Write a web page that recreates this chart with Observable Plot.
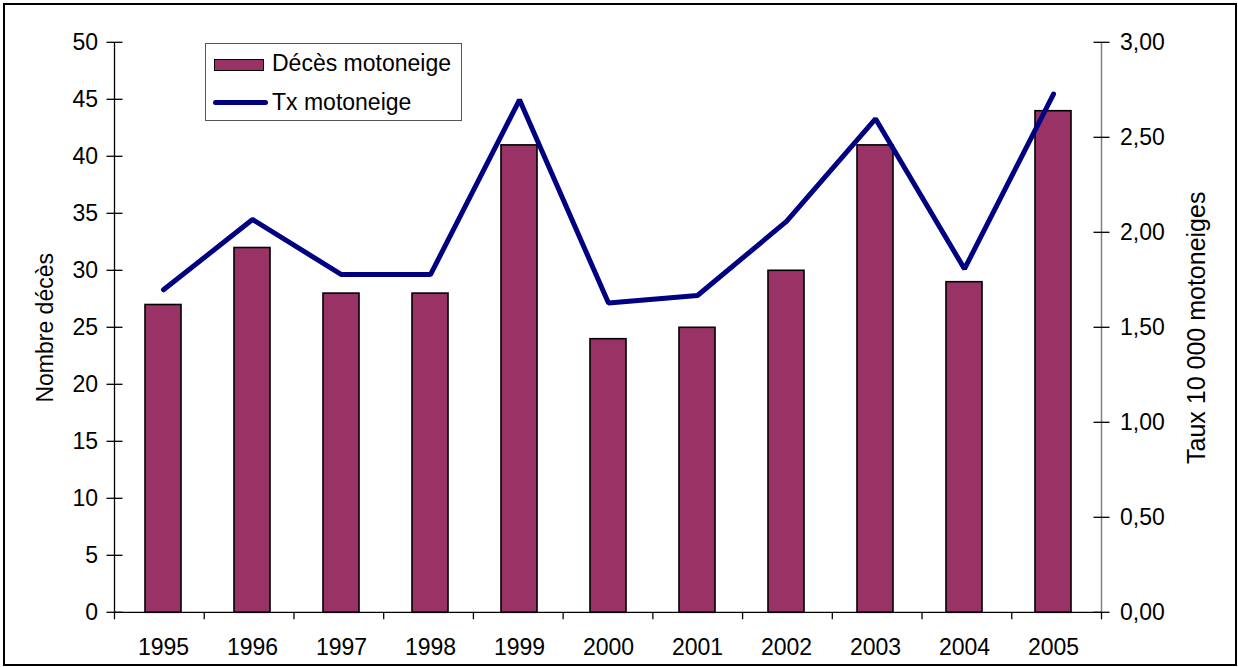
<!DOCTYPE html>
<html>
<head>
<meta charset="utf-8">
<script src="https://cdn.jsdelivr.net/npm/d3@7"></script>
<script src="https://cdn.jsdelivr.net/npm/@observablehq/plot@0.6"></script>
<style>
  html, body { margin: 0; padding: 0; background: #fff; }
  body { width: 1238px; height: 667px; position: relative; overflow: hidden; font-family: "Liberation Sans", Arial, sans-serif; }
  #border { position: absolute; left: 3px; top: 3px; width: 1230px; height: 659px; border: 2px solid #000; }
  #chart { position: absolute; left: 0; top: 0; }
  #legend { position: absolute; left: 205px; top: 43px; width: 255px; height: 76px; border: 1.5px solid #555; background: #fff; font-size: 23px; color: #000; }
  .sw-bar { position: absolute; left: 8px; top: 15px; width: 48px; height: 10px; background: #993366; border: 1.5px solid #000; }
  .sw-line { position: absolute; left: 7px; top: 56px; width: 55px; height: 5px; background: #000080; border-radius: 3px; }
  .lt { position: absolute; left: 66px; white-space: nowrap; }
</style>
</head>
<body>
<div id="border"></div>
<div id="chart"></div>
<div id="legend">
  <div class="sw-bar"></div><div class="lt" style="top:6px">Décès motoneige</div>
  <div class="sw-line"></div><div class="lt" style="top:45px">Tx motoneige</div>
</div>
<script>
const years = ["1995","1996","1997","1998","1999","2000","2001","2002","2003","2004","2005"];
const deces = [27, 32, 28, 28, 41, 24, 25, 30, 41, 29, 44];
const taux = [1.70, 2.07, 1.78, 1.78, 2.70, 1.63, 1.67, 2.06, 2.60, 1.81, 2.73];
const leftTicks = [0, 5, 10, 15, 20, 25, 30, 35, 40, 45, 50];
const rightTicks = [0, 0.5, 1, 1.5, 2, 2.5, 3];
const leftMax = 50, rightMax = 3;
const k = leftMax / rightMax;
const FS = 23;

const data = years.map((y, i) => ({year: y, deces: deces[i], taux: taux[i]}));

// axis lines and crossing ticks, positioned with Plot's own y scale and frame dimensions
function axesDecor(index, scales, values, dims) {
  const g = d3.create("svg:g");
  const L = dims.marginLeft, R = dims.width - dims.marginRight;
  const T = dims.marginTop, B = dims.height - dims.marginBottom;
  const y = scales.y;
  g.append("line").attr("x1", L).attr("x2", L).attr("y1", T).attr("y2", B).attr("stroke", "#000").attr("stroke-width", 1.3);
  g.append("line").attr("x1", R).attr("x2", R).attr("y1", T).attr("y2", B).attr("stroke", "#808080").attr("stroke-width", 1.5);
  for (const t of leftTicks) {
    g.append("line").attr("x1", L - 8).attr("x2", L + 8).attr("y1", y(t)).attr("y2", y(t)).attr("stroke", "#000").attr("stroke-width", 1.3);
  }
  for (const t of rightTicks) {
    g.append("line").attr("x1", R - 8).attr("x2", R + 8).attr("y1", y(t * k)).attr("y2", y(t * k)).attr("stroke", "#000").attr("stroke-width", 1.3);
  }
  g.append("line").attr("x1", L).attr("x2", R).attr("y1", y(0)).attr("y2", y(0)).attr("stroke", "#000").attr("stroke-width", 1.3);
  const n = years.length, step = (R - L) / n;
  for (let i = 0; i <= n; i++) {
    const x = L + i * step;
    g.append("line").attr("x1", x).attr("x2", x).attr("y1", y(0)).attr("y2", y(0) + 7).attr("stroke", "#000").attr("stroke-width", 1.3);
  }
  return g.node();
}

const plot = Plot.plot({
  width: 1238,
  height: 667,
  marginLeft: 114.5,
  marginRight: 136.5,
  marginTop: 42.3,
  marginBottom: 54.7,
  style: {fontFamily: "'Liberation Sans', Arial, sans-serif", fontSize: FS + "px", background: "transparent", color: "#000"},
  x: {type: "band", domain: years, paddingInner: 0.59, paddingOuter: 0.295, label: null},
  y: {domain: [0, leftMax], label: null},
  marks: [
    Plot.barY(data, {x: "year", y: "deces", fill: "#993366", stroke: "#000", strokeWidth: 1.6}),
    Plot.line(data, {x: "year", y: d => d.taux * k, stroke: "#000080", strokeWidth: 5, strokeLinejoin: "miter", strokeLinecap: "round"}),
    axesDecor,
    Plot.axisX({tickSize: 0, tickPadding: 26, label: null, fontSize: FS}),
    Plot.axisY({ticks: leftTicks, tickSize: 0, tickPadding: 17, label: null, fontSize: FS}),
    Plot.axisY({anchor: "right", ticks: rightTicks.map(t => t * k), tickSize: 0, tickPadding: 18, fontSize: FS,
      tickFormat: d => (d / k).toFixed(2).replace(".", ","), label: null}),
    Plot.text(["Nombre décès"], {text: d => d, frameAnchor: "left", dx: -69.5, rotate: -90, textAnchor: "middle", fontSize: FS}),
    Plot.text(["Taux 10 000 motoneiges"], {text: d => d, frameAnchor: "right", dx: 95, rotate: -90, textAnchor: "middle", fontSize: 25})
  ]
});
d3.select(plot).selectAll("text").filter(function() { return this.textContent !== "Taux 10 000 motoneiges"; }).style("font-size", FS + "px");
document.getElementById("chart").appendChild(plot);
</script>
</body>
</html>
